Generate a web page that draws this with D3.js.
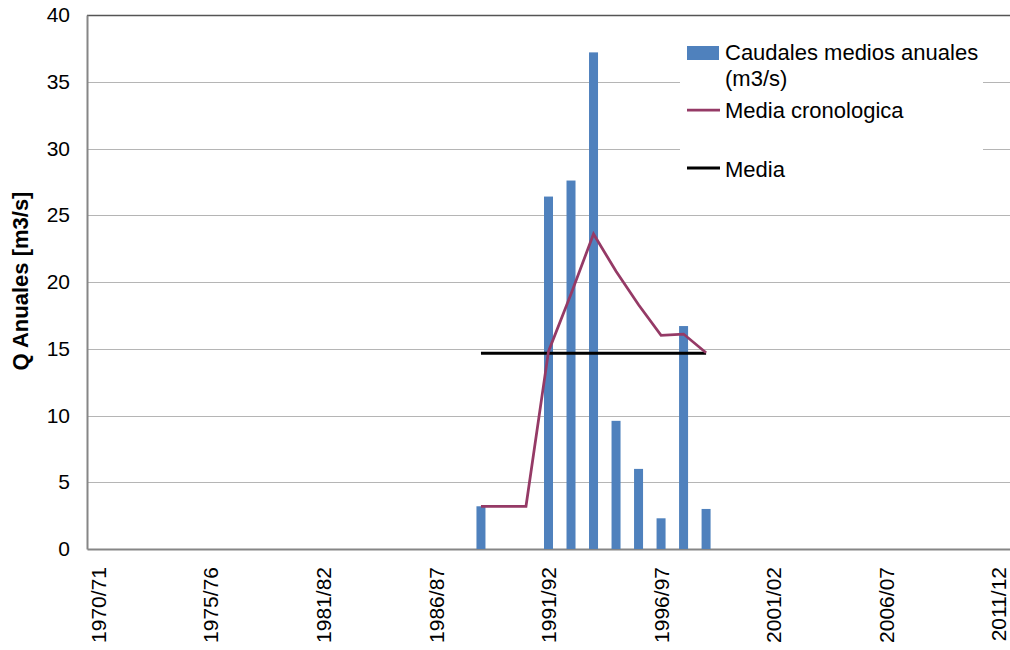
<!DOCTYPE html>
<html>
<head>
<meta charset="utf-8">
<script src="https://cdn.jsdelivr.net/npm/d3@7"></script>
<style>
  html, body { margin: 0; padding: 0; background: #fff; }
  svg { display: block; font-family: "Liberation Sans", Arial, sans-serif; }
</style>
</head>
<body>
<svg id="chart" width="1010" height="650"></svg>
<script>
// ---- data ----
const categories = [
  "1970/71","1971/72","1972/73","1973/74","1974/75","1975/76","1976/77","1977/78","1978/79","1979/80",
  "1981/82","1982/83","1983/84","1984/85","1985/86","1986/87","1987/88","1988/89","1989/90","1990/91",
  "1991/92","1992/93","1993/94","1994/95","1995/96","1996/97","1997/98","1998/99","1999/00","2000/01",
  "2001/02","2002/03","2003/04","2004/05","2005/06","2006/07","2007/08","2008/09","2009/10","2010/11",
  "2011/12"
];
const tickLabels = ["1970/71","1975/76","1981/82","1986/87","1991/92","1996/97","2001/02","2006/07","2011/12"];
const yTicks = [0, 5, 10, 15, 20, 25, 30, 35, 40];

const flowYears  = ["1988/89","1991/92","1992/93","1993/94","1994/95","1995/96","1996/97","1997/98","1998/99"];
const flowValues = [3.2, 26.4, 27.6, 37.2, 9.6, 6.0, 2.3, 16.7, 3.0];

const cronoYears  = ["1988/89","1989/90","1990/91","1991/92","1992/93","1993/94","1994/95","1995/96","1996/97","1997/98","1998/99"];
const cronoValues = [3.2, 3.2, 3.2, 14.8, 19.1, 23.6, 20.8, 18.3, 16.0, 16.1, 14.7];

const mediaYears  = ["1988/89","1998/99"];
const mediaValues = [14.67, 14.67];

const seriesNames = ["Caudales medios anuales", "(m3/s)", "Media cronologica", "Media"];
const yTitle = "Q Anuales [m3/s]";

// ---- layout ----
const svg = d3.select("#chart");
const mLeft = 87, mRight = 1010, mTop = 15, mBottom = 549;
const FS = 21, LFS = 22;

const x = d3.scaleBand().domain(categories).range([mLeft, mRight]).paddingInner(0.6).paddingOuter(0.3);
const xc = d => x(d) + x.bandwidth() / 2;
const y = d3.scaleLinear().domain([0, 40]).range([mBottom, mTop]);

// gridlines
svg.append("g").selectAll("line").data(yTicks.filter(v => v > 0)).join("line")
  .attr("x1", mLeft).attr("x2", mRight)
  .attr("y1", d => Math.round(y(d)) + 0.5).attr("y2", d => Math.round(y(d)) + 0.5)
  .attr("stroke", d => d === 40 ? "#555" : "#b5b5b5").attr("stroke-width", d => d === 40 ? 1.5 : 1);

// y axis
const yAxis = svg.append("g").attr("transform", `translate(${mLeft},0)`)
  .call(d3.axisLeft(y).tickValues(yTicks).tickSize(0).tickPadding(17));
yAxis.select(".domain").attr("stroke", "#868686").attr("stroke-width", 2);
yAxis.selectAll("text").attr("font-size", FS).attr("fill", "#000").attr("font-family", "Liberation Sans, Arial, sans-serif");

// x axis
const xAxis = svg.append("g").attr("transform", `translate(0,${mBottom})`)
  .call(d3.axisBottom(x).tickValues(tickLabels).tickSize(0).tickPadding(0));
xAxis.select(".domain").attr("stroke", "#868686").attr("stroke-width", 2);
xAxis.selectAll("text")
  .attr("font-size", FS).attr("fill", "#000").attr("font-family", "Liberation Sans, Arial, sans-serif")
  .attr("text-anchor", "end")
  .attr("transform", "rotate(-90)")
  .attr("x", -18).attr("y", 0).attr("dy", "0.36em");

// bars
svg.append("g").selectAll("rect").data(flowYears.map((c, i) => ({c, v: flowValues[i]}))).join("rect")
  .attr("x", d => x(d.c)).attr("width", x.bandwidth())
  .attr("y", d => y(d.v)).attr("height", d => y(0) - y(d.v))
  .attr("fill", "#4F81BD");

// media line
svg.append("path")
  .datum(mediaYears.map((c, i) => ({c, v: mediaValues[i]})))
  .attr("fill", "none").attr("stroke", "#000").attr("stroke-width", 3)
  .attr("d", d3.line().x(d => xc(d.c)).y(d => y(d.v)));

// media cronologica
svg.append("path")
  .datum(cronoYears.map((c, i) => ({c, v: cronoValues[i]})))
  .attr("fill", "none").attr("stroke", "#953A66").attr("stroke-width", 2.75).attr("stroke-linejoin", "miter")
  .attr("d", d3.line().x(d => xc(d.c)).y(d => y(d.v)));

// y title
svg.append("text")
  .attr("transform", `translate(28,281) rotate(-90)`)
  .attr("text-anchor", "middle").attr("font-size", LFS).attr("font-weight", "bold")
  .text(yTitle);

// legend
const lg = svg.append("g");
lg.append("rect").attr("x", 680).attr("y", 36).attr("width", 303).attr("height", 150).attr("fill", "#fff");
lg.append("rect").attr("x", 687).attr("y", 46).attr("width", 32).attr("height", 14).attr("fill", "#4F81BD");
lg.append("text").attr("x", 725).attr("y", 60).attr("font-size", LFS).text(seriesNames[0]);
lg.append("text").attr("x", 725).attr("y", 86).attr("font-size", LFS).text(seriesNames[1]);
lg.append("line").attr("x1", 687).attr("x2", 720).attr("y1", 110).attr("y2", 110).attr("stroke", "#953A66").attr("stroke-width", 2.75);
lg.append("text").attr("x", 725).attr("y", 118).attr("font-size", LFS).text(seriesNames[2]);
lg.append("line").attr("x1", 687).attr("x2", 720).attr("y1", 168).attr("y2", 168).attr("stroke", "#000").attr("stroke-width", 3);
lg.append("text").attr("x", 725).attr("y", 177).attr("font-size", LFS).text(seriesNames[3]);
</script>
</body>
</html>
